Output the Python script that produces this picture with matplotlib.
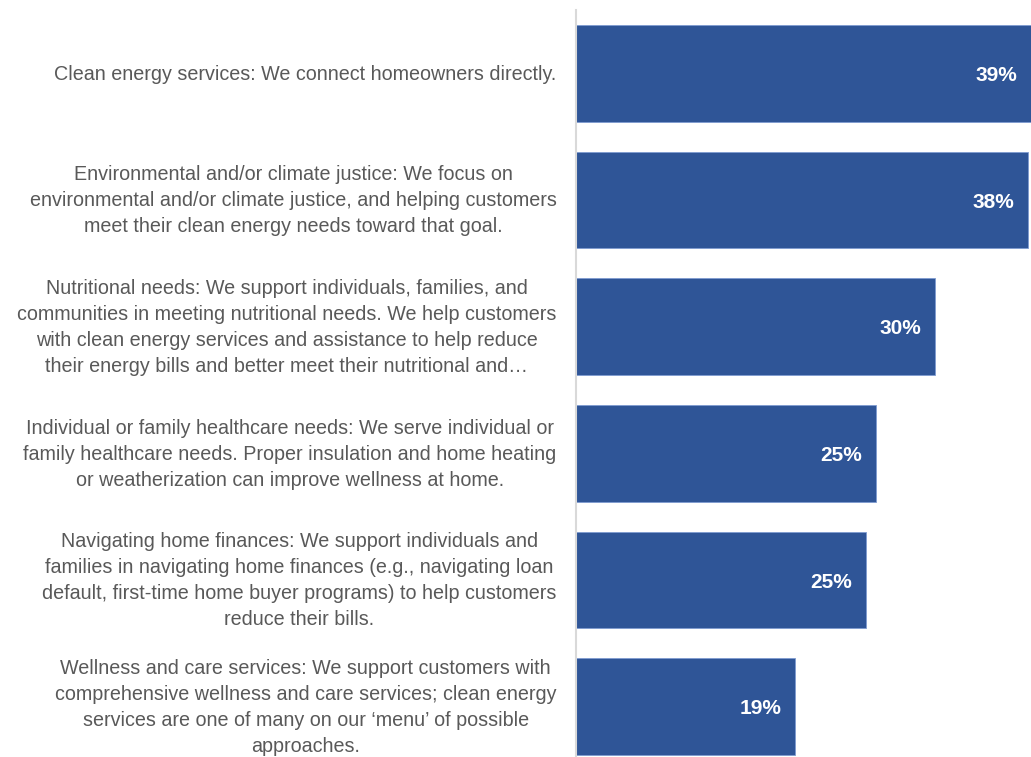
import matplotlib
matplotlib.use('Agg')
import matplotlib.pyplot as plt

# survey answers, top to bottom
categories = [
    "Clean energy services: We connect homeowners directly.",
    "Environmental and/or climate justice: We focus on\n"
    "environmental and/or climate justice, and helping customers\n"
    "meet their clean energy needs toward that goal.",
    "Nutritional needs: We support individuals, families, and\n"
    "communities in meeting nutritional needs. We help customers\n"
    "with clean energy services and assistance to help reduce\n"
    "their energy bills and better meet their nutritional and\u2026",
    "Individual or family healthcare needs: We serve individual or\n"
    "family healthcare needs. Proper insulation and home heating\n"
    "or weatherization can improve wellness at home.",
    "Navigating home finances: We support individuals and\n"
    "families in navigating home finances (e.g., navigating loan\n"
    "default, first-time home buyer programs) to help customers\n"
    "reduce their bills.",
    "Wellness and care services: We support customers with\n"
    "comprehensive wellness and care services; clean energy\n"
    "services are one of many on our \u2018menu\u2019 of possible\n"
    "approaches.",
]
shares = [38.55, 38.3, 30.45, 25.45, 24.55, 18.6]

family = ['Liberation Sans', 'DejaVu Sans']

W, H = 1031, 757
fig = plt.figure(figsize=(W / 100, H / 100), dpi=100)
# plot area in pixels: left edge at the axis line, runs past the right and bottom edges
left, top, width, height = 576, 10, 472, 760
ax = fig.add_axes([left / W, 1 - (top + height) / H, width / W, height / H])

ypos = list(range(len(categories)))
bars = ax.barh(ypos, shares, height=0.765, color='#2F5597',
               edgecolor='#7F9BD0', linewidth=0.6)
ax.set_ylim(len(categories) - 0.5, -0.5)
ax.set_xlim(0, 40)

for b, v in zip(bars, shares):
    ax.annotate(f"{v:.0f}%", (b.get_width(), b.get_y() + b.get_height() / 2),
                xytext=(-10, -1.5), textcoords='offset points',
                ha='right', va='center', color='white', fontsize=15,
                fontweight='bold', family=family)

# category text to the left of the axis line, centred lines
for y, cat in zip(ypos, categories):
    ax.annotate(cat, (0, y), xycoords=('axes fraction', 'data'),
                xytext=(-14, -0.6), textcoords='offset points',
                ha='right', va='center', multialignment='center',
                fontsize=14.2, color='#595959', family=family,
                linespacing=1.47, annotation_clip=False)

ax.set_yticks([])
ax.set_xticks([])

for s in ['top', 'right', 'bottom']:
    ax.spines[s].set_visible(False)
ax.spines['left'].set_color('#D9D9D9')
ax.spines['left'].set_linewidth(1.5)

fig.savefig('out.png', dpi=100)
